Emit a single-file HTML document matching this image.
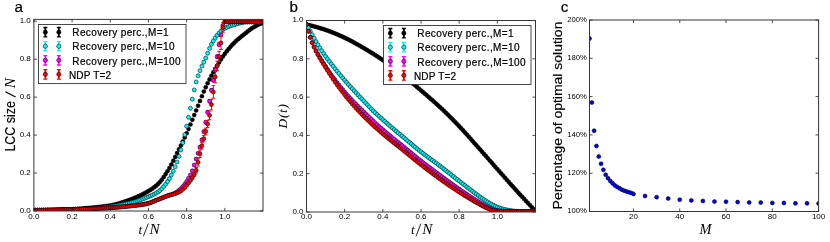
<!DOCTYPE html>
<html><head><meta charset="utf-8"><title>figure</title>
<style>html,body{margin:0;padding:0;background:#fff}body{width:830px;height:242px;overflow:hidden;font-family:"Liberation Sans",sans-serif}svg{display:block;will-change:transform}</style>
</head><body>
<svg width="830" height="242" viewBox="0 0 830 242">
<rect width="830" height="242" fill="#fff"/>
<defs>
<clipPath id="clipa"><rect x="33.88" y="19.4" width="229.12" height="191.6"/></clipPath>
<clipPath id="clipb"><rect x="306.5" y="20.5" width="229" height="191.5"/></clipPath>
<clipPath id="clipc"><rect x="589.5" y="20" width="229.1" height="191.5"/></clipPath>
</defs>
<g clip-path="url(#clipa)"><g fill="#000" stroke="#000" stroke-width="0.55"><circle cx="33.88" cy="210.24" r="2.0"/><circle cx="35.79" cy="210.24" r="2.0"/><circle cx="37.7" cy="210.23" r="2.0"/><circle cx="39.61" cy="210.21" r="2.0"/><circle cx="41.52" cy="210.19" r="2.0"/><circle cx="43.43" cy="210.16" r="2.0"/><circle cx="45.34" cy="210.13" r="2.0"/><circle cx="47.25" cy="210.1" r="2.0"/><circle cx="49.15" cy="210.05" r="2.0"/><circle cx="51.06" cy="210.01" r="2.0"/><circle cx="52.97" cy="209.96" r="2.0"/><circle cx="54.88" cy="209.9" r="2.0"/><circle cx="56.79" cy="209.85" r="2.0"/><circle cx="58.7" cy="209.79" r="2.0"/><circle cx="60.61" cy="209.72" r="2.0"/><circle cx="62.52" cy="209.66" r="2.0"/><circle cx="64.43" cy="209.59" r="2.0"/><circle cx="66.34" cy="209.52" r="2.0"/><circle cx="68.25" cy="209.44" r="2.0"/><circle cx="70.16" cy="209.37" r="2.0"/><circle cx="72.07" cy="209.29" r="2.0"/><circle cx="73.98" cy="209.2" r="2.0"/><circle cx="75.89" cy="209.09" r="2.0"/><circle cx="77.79" cy="208.97" r="2.0"/><circle cx="79.7" cy="208.82" r="2.0"/><circle cx="81.61" cy="208.66" r="2.0"/><circle cx="83.52" cy="208.5" r="2.0"/><circle cx="85.43" cy="208.32" r="2.0"/><circle cx="87.34" cy="208.14" r="2.0"/><circle cx="89.25" cy="207.96" r="2.0"/><circle cx="91.16" cy="207.77" r="2.0"/><circle cx="93.07" cy="207.59" r="2.0"/><circle cx="94.98" cy="207.41" r="2.0"/><circle cx="96.89" cy="207.22" r="2.0"/><circle cx="98.8" cy="207.02" r="2.0"/><circle cx="100.71" cy="206.81" r="2.0"/><circle cx="102.62" cy="206.59" r="2.0"/><circle cx="104.53" cy="206.35" r="2.0"/><circle cx="106.43" cy="206.09" r="2.0"/><circle cx="108.34" cy="205.8" r="2.0"/><circle cx="110.25" cy="205.5" r="2.0"/><circle cx="112.16" cy="205.14" r="2.0"/><circle cx="114.07" cy="204.73" r="2.0"/><circle cx="115.98" cy="204.26" r="2.0"/><circle cx="117.89" cy="203.75" r="2.0"/><circle cx="119.8" cy="203.19" r="2.0"/><circle cx="121.71" cy="202.6" r="2.0"/><circle cx="123.62" cy="201.98" r="2.0"/><circle cx="125.53" cy="201.33" r="2.0"/><circle cx="127.44" cy="200.67" r="2.0"/><circle cx="129.35" cy="199.99" r="2.0"/><circle cx="131.26" cy="199.29" r="2.0"/><circle cx="133.17" cy="198.55" r="2.0"/><circle cx="135.07" cy="197.77" r="2.0"/><circle cx="136.98" cy="196.95" r="2.0"/><circle cx="138.89" cy="196.08" r="2.0"/><circle cx="140.8" cy="195.17" r="2.0"/><circle cx="142.71" cy="194.21" r="2.0"/><circle cx="144.62" cy="193.21" r="2.0"/><circle cx="146.53" cy="192.17" r="2.0"/><circle cx="148.44" cy="191.07" r="2.0"/><circle cx="150.35" cy="189.92" r="2.0"/><circle cx="152.26" cy="188.67" r="2.0"/><circle cx="154.17" cy="187.29" r="2.0"/><circle cx="156.08" cy="185.76" r="2.0"/><circle cx="157.99" cy="184.05" r="2.0"/><circle cx="159.9" cy="182.02" r="2.0"/><circle cx="161.81" cy="179.64" r="2.0"/><circle cx="163.71" cy="176.98" r="2.0"/><circle cx="165.62" cy="174.12" r="2.0"/><circle cx="167.53" cy="171.14" r="2.0"/><circle cx="169.44" cy="167.94" r="2.0"/><circle cx="171.35" cy="164.44" r="2.0"/><circle cx="173.26" cy="160.73" r="2.0"/><circle cx="175.17" cy="156.92" r="2.0"/><circle cx="177.08" cy="153.11" r="2.0"/><circle cx="178.99" cy="149.33" r="2.0"/><circle cx="180.9" cy="145.49" r="2.0"/><circle cx="182.81" cy="141.57" r="2.0"/><circle cx="184.72" cy="137.54" r="2.0"/><circle cx="186.63" cy="133.37" r="2.0"/><circle cx="188.54" cy="129.01" r="2.0"/><circle cx="190.45" cy="124.45" r="2.0"/><circle cx="192.35" cy="119.77" r="2.0"/><circle cx="194.26" cy="115.07" r="2.0"/><circle cx="196.17" cy="110.41" r="2.0"/><circle cx="198.08" cy="105.7" r="2.0"/><circle cx="199.99" cy="100.91" r="2.0"/><circle cx="201.9" cy="96.14" r="2.0"/><circle cx="203.81" cy="91.55" r="2.0"/><circle cx="205.72" cy="87.25" r="2.0"/><circle cx="207.63" cy="83.24" r="2.0"/><circle cx="209.54" cy="79.4" r="2.0"/><circle cx="211.45" cy="75.73" r="2.0"/><circle cx="213.36" cy="72.22" r="2.0"/><circle cx="215.27" cy="68.84" r="2.0"/><circle cx="217.18" cy="65.58" r="2.0"/><circle cx="219.09" cy="62.42" r="2.0"/><circle cx="220.99" cy="59.39" r="2.0"/><circle cx="222.9" cy="56.52" r="2.0"/><circle cx="224.81" cy="53.85" r="2.0"/><circle cx="226.72" cy="51.34" r="2.0"/><circle cx="228.63" cy="48.97" r="2.0"/><circle cx="230.54" cy="46.72" r="2.0"/><circle cx="232.45" cy="44.61" r="2.0"/><circle cx="234.36" cy="42.65" r="2.0"/><circle cx="236.27" cy="40.84" r="2.0"/><circle cx="238.18" cy="39.15" r="2.0"/><circle cx="240.09" cy="37.56" r="2.0"/><circle cx="242" cy="36.02" r="2.0"/><circle cx="243.91" cy="34.49" r="2.0"/><circle cx="245.82" cy="32.94" r="2.0"/><circle cx="247.73" cy="31.38" r="2.0"/><circle cx="249.63" cy="29.88" r="2.0"/><circle cx="251.54" cy="28.5" r="2.0"/><circle cx="253.45" cy="27.28" r="2.0"/><circle cx="255.36" cy="26.19" r="2.0"/><circle cx="257.27" cy="25.18" r="2.0"/><circle cx="259.18" cy="24.25" r="2.0"/><circle cx="261.09" cy="23.43" r="2.0"/><circle cx="263" cy="22.72" r="2.0"/></g></g>
<g clip-path="url(#clipa)"><g fill="#00fafa" stroke="#000" stroke-width="0.55"><circle cx="33.88" cy="210.24" r="2.0"/><circle cx="35.79" cy="210.24" r="2.0"/><circle cx="37.7" cy="210.23" r="2.0"/><circle cx="39.61" cy="210.22" r="2.0"/><circle cx="41.52" cy="210.2" r="2.0"/><circle cx="43.43" cy="210.18" r="2.0"/><circle cx="45.34" cy="210.15" r="2.0"/><circle cx="47.25" cy="210.12" r="2.0"/><circle cx="49.15" cy="210.08" r="2.0"/><circle cx="51.06" cy="210.04" r="2.0"/><circle cx="52.97" cy="210" r="2.0"/><circle cx="54.88" cy="209.96" r="2.0"/><circle cx="56.79" cy="209.91" r="2.0"/><circle cx="58.7" cy="209.86" r="2.0"/><circle cx="60.61" cy="209.81" r="2.0"/><circle cx="62.52" cy="209.76" r="2.0"/><circle cx="64.43" cy="209.71" r="2.0"/><circle cx="66.34" cy="209.65" r="2.0"/><circle cx="68.25" cy="209.6" r="2.0"/><circle cx="70.16" cy="209.54" r="2.0"/><circle cx="72.07" cy="209.48" r="2.0"/><circle cx="73.98" cy="209.42" r="2.0"/><circle cx="75.89" cy="209.35" r="2.0"/><circle cx="77.79" cy="209.27" r="2.0"/><circle cx="79.7" cy="209.19" r="2.0"/><circle cx="81.61" cy="209.09" r="2.0"/><circle cx="83.52" cy="208.99" r="2.0"/><circle cx="85.43" cy="208.89" r="2.0"/><circle cx="87.34" cy="208.78" r="2.0"/><circle cx="89.25" cy="208.66" r="2.0"/><circle cx="91.16" cy="208.53" r="2.0"/><circle cx="93.07" cy="208.4" r="2.0"/><circle cx="94.98" cy="208.25" r="2.0"/><circle cx="96.89" cy="208.09" r="2.0"/><circle cx="98.8" cy="207.92" r="2.0"/><circle cx="100.71" cy="207.74" r="2.0"/><circle cx="102.62" cy="207.54" r="2.0"/><circle cx="104.53" cy="207.33" r="2.0"/><circle cx="106.43" cy="207.11" r="2.0"/><circle cx="108.34" cy="206.88" r="2.0"/><circle cx="110.25" cy="206.63" r="2.0"/><circle cx="112.16" cy="206.37" r="2.0"/><circle cx="114.07" cy="206.09" r="2.0"/><circle cx="115.98" cy="205.78" r="2.0"/><circle cx="117.89" cy="205.45" r="2.0"/><circle cx="119.8" cy="205.09" r="2.0"/><circle cx="121.71" cy="204.72" r="2.0"/><circle cx="123.62" cy="204.32" r="2.0"/><circle cx="125.53" cy="203.91" r="2.0"/><circle cx="127.44" cy="203.48" r="2.0"/><circle cx="129.35" cy="203.03" r="2.0"/><circle cx="131.26" cy="202.55" r="2.0"/><circle cx="133.17" cy="202.04" r="2.0"/><circle cx="135.07" cy="201.49" r="2.0"/><circle cx="136.98" cy="200.91" r="2.0"/><circle cx="138.89" cy="200.29" r="2.0"/><circle cx="140.8" cy="199.64" r="2.0"/><circle cx="142.71" cy="198.96" r="2.0"/><circle cx="144.62" cy="198.26" r="2.0"/><circle cx="146.53" cy="197.52" r="2.0"/><circle cx="148.44" cy="196.77" r="2.0"/><circle cx="150.35" cy="195.99" r="2.0"/><circle cx="152.26" cy="195.17" r="2.0"/><circle cx="154.17" cy="194.26" r="2.0"/><circle cx="156.08" cy="193.23" r="2.0"/><circle cx="157.99" cy="192.02" r="2.0"/><circle cx="159.9" cy="190.54" r="2.0"/><circle cx="161.81" cy="188.71" r="2.0"/><circle cx="163.71" cy="186.59" r="2.0"/><circle cx="165.62" cy="184.2" r="2.0"/><circle cx="167.53" cy="181.58" r="2.0"/><circle cx="169.44" cy="178.59" r="2.0"/><circle cx="171.35" cy="175.11" r="2.0"/><circle cx="173.26" cy="171.16" r="2.0"/><circle cx="175.17" cy="166.78" r="2.0"/><circle cx="177.08" cy="162.03" r="2.0"/><circle cx="178.99" cy="156.47" r="2.0"/><circle cx="180.9" cy="149.95" r="2.0"/><circle cx="182.81" cy="142.78" r="2.0"/><circle cx="184.72" cy="134.68" r="2.0"/><circle cx="186.63" cy="126.16" r="2.0"/><circle cx="188.54" cy="117.33" r="2.0"/><circle cx="190.45" cy="108.24" r="2.0"/><circle cx="192.35" cy="99.2" r="2.0"/><circle cx="194.26" cy="89.92" r="2.0"/><circle cx="196.17" cy="81.94" r="2.0"/><circle cx="198.08" cy="75.83" r="2.0"/><circle cx="199.99" cy="70.66" r="2.0"/><circle cx="201.9" cy="66.06" r="2.0"/><circle cx="203.81" cy="62.08" r="2.0"/><circle cx="205.72" cy="58.02" r="2.0"/><circle cx="207.63" cy="53.24" r="2.0"/><circle cx="209.54" cy="48.38" r="2.0"/><circle cx="211.45" cy="44.36" r="2.0"/><circle cx="213.36" cy="40.9" r="2.0"/><circle cx="215.27" cy="37.91" r="2.0"/><circle cx="217.18" cy="35.28" r="2.0"/><circle cx="219.09" cy="32.99" r="2.0"/><circle cx="220.99" cy="31.14" r="2.0"/><circle cx="222.9" cy="29.57" r="2.0"/><circle cx="224.81" cy="28.32" r="2.0"/><circle cx="226.72" cy="27.36" r="2.0"/><circle cx="228.63" cy="26.57" r="2.0"/><circle cx="230.54" cy="25.87" r="2.0"/><circle cx="232.45" cy="25.25" r="2.0"/><circle cx="234.36" cy="24.68" r="2.0"/><circle cx="236.27" cy="24.12" r="2.0"/><circle cx="238.18" cy="23.58" r="2.0"/><circle cx="240.09" cy="23.1" r="2.0"/><circle cx="242" cy="22.63" r="2.0"/><circle cx="243.91" cy="22.21" r="2.0"/><circle cx="245.82" cy="21.96" r="2.0"/><circle cx="247.73" cy="21.86" r="2.0"/><circle cx="249.63" cy="21.8" r="2.0"/><circle cx="251.54" cy="21.77" r="2.0"/><circle cx="253.45" cy="21.77" r="2.0"/><circle cx="255.36" cy="21.77" r="2.0"/><circle cx="257.27" cy="21.77" r="2.0"/><circle cx="259.18" cy="21.77" r="2.0"/><circle cx="261.09" cy="21.77" r="2.0"/><circle cx="263" cy="21.77" r="2.0"/></g></g>
<g clip-path="url(#clipa)"><path d="M192.35 171.51V170.03M190.55 171.51h3.6M190.55 170.03h3.6M194.26 165.96V164.2M192.46 165.96h3.6M192.46 164.2h3.6M196.17 159.87V158.1M194.37 159.87h3.6M194.37 158.1h3.6M198.08 154.21V152.43M196.28 154.21h3.6M196.28 152.43h3.6M199.99 148.14V146.11M198.19 148.14h3.6M198.19 146.11h3.6M201.9 140.97V138.63M200.1 140.97h3.6M200.1 138.63h3.6M203.81 132.88V130.25M202.01 132.88h3.6M202.01 130.25h3.6M205.72 123.75V120.84M203.92 123.75h3.6M203.92 120.84h3.6M207.63 113.8V110.64M205.83 113.8h3.6M205.83 110.64h3.6M209.54 102.86V99.57M207.74 102.86h3.6M207.74 99.57h3.6M211.45 91.85V88.72M209.65 91.85h3.6M209.65 88.72h3.6M213.36 81.86V78.79M211.56 81.86h3.6M211.56 78.79h3.6M215.27 71.56V68.02M213.47 71.56h3.6M213.47 68.02h3.6M217.18 58.62V54.83M215.38 58.62h3.6M215.38 54.83h3.6M219.09 46.18V42.91M217.29 46.18h3.6M217.29 42.91h3.6M220.99 36.39V33.53M219.19 36.39h3.6M219.19 33.53h3.6M222.9 26.5V24.52M221.1 26.5h3.6M221.1 24.52h3.6" stroke="#f0f" stroke-width="1.0" fill="none"/><g fill="#f0f" stroke="#000" stroke-width="0.55"><circle cx="33.88" cy="210.24" r="2.0"/><circle cx="35.79" cy="210.22" r="2.0"/><circle cx="37.7" cy="210.21" r="2.0"/><circle cx="39.61" cy="210.18" r="2.0"/><circle cx="41.52" cy="210.16" r="2.0"/><circle cx="43.43" cy="210.13" r="2.0"/><circle cx="45.34" cy="210.1" r="2.0"/><circle cx="47.25" cy="210.07" r="2.0"/><circle cx="49.15" cy="210.03" r="2.0"/><circle cx="51.06" cy="210" r="2.0"/><circle cx="52.97" cy="209.96" r="2.0"/><circle cx="54.88" cy="209.92" r="2.0"/><circle cx="56.79" cy="209.87" r="2.0"/><circle cx="58.7" cy="209.83" r="2.0"/><circle cx="60.61" cy="209.78" r="2.0"/><circle cx="62.52" cy="209.73" r="2.0"/><circle cx="64.43" cy="209.69" r="2.0"/><circle cx="66.34" cy="209.64" r="2.0"/><circle cx="68.25" cy="209.59" r="2.0"/><circle cx="70.16" cy="209.53" r="2.0"/><circle cx="72.07" cy="209.48" r="2.0"/><circle cx="73.98" cy="209.43" r="2.0"/><circle cx="75.89" cy="209.37" r="2.0"/><circle cx="77.79" cy="209.31" r="2.0"/><circle cx="79.7" cy="209.25" r="2.0"/><circle cx="81.61" cy="209.18" r="2.0"/><circle cx="83.52" cy="209.11" r="2.0"/><circle cx="85.43" cy="209.03" r="2.0"/><circle cx="87.34" cy="208.96" r="2.0"/><circle cx="89.25" cy="208.88" r="2.0"/><circle cx="91.16" cy="208.79" r="2.0"/><circle cx="93.07" cy="208.7" r="2.0"/><circle cx="94.98" cy="208.61" r="2.0"/><circle cx="96.89" cy="208.52" r="2.0"/><circle cx="98.8" cy="208.42" r="2.0"/><circle cx="100.71" cy="208.32" r="2.0"/><circle cx="102.62" cy="208.22" r="2.0"/><circle cx="104.53" cy="208.11" r="2.0"/><circle cx="106.43" cy="208" r="2.0"/><circle cx="108.34" cy="207.89" r="2.0"/><circle cx="110.25" cy="207.77" r="2.0"/><circle cx="112.16" cy="207.65" r="2.0"/><circle cx="114.07" cy="207.51" r="2.0"/><circle cx="115.98" cy="207.36" r="2.0"/><circle cx="117.89" cy="207.2" r="2.0"/><circle cx="119.8" cy="207.03" r="2.0"/><circle cx="121.71" cy="206.85" r="2.0"/><circle cx="123.62" cy="206.66" r="2.0"/><circle cx="125.53" cy="206.47" r="2.0"/><circle cx="127.44" cy="206.27" r="2.0"/><circle cx="129.35" cy="206.07" r="2.0"/><circle cx="131.26" cy="205.86" r="2.0"/><circle cx="133.17" cy="205.66" r="2.0"/><circle cx="135.07" cy="205.46" r="2.0"/><circle cx="136.98" cy="205.24" r="2.0"/><circle cx="138.89" cy="205.01" r="2.0"/><circle cx="140.8" cy="204.75" r="2.0"/><circle cx="142.71" cy="204.47" r="2.0"/><circle cx="144.62" cy="204.15" r="2.0"/><circle cx="146.53" cy="203.79" r="2.0"/><circle cx="148.44" cy="203.31" r="2.0"/><circle cx="150.35" cy="202.69" r="2.0"/><circle cx="152.26" cy="201.96" r="2.0"/><circle cx="154.17" cy="201.17" r="2.0"/><circle cx="156.08" cy="200.37" r="2.0"/><circle cx="157.99" cy="199.61" r="2.0"/><circle cx="159.9" cy="198.87" r="2.0"/><circle cx="161.81" cy="198.1" r="2.0"/><circle cx="163.71" cy="197.33" r="2.0"/><circle cx="165.62" cy="196.56" r="2.0"/><circle cx="167.53" cy="195.82" r="2.0"/><circle cx="169.44" cy="195.14" r="2.0"/><circle cx="171.35" cy="194.51" r="2.0"/><circle cx="173.26" cy="193.82" r="2.0"/><circle cx="175.17" cy="192.97" r="2.0"/><circle cx="177.08" cy="191.81" r="2.0"/><circle cx="178.99" cy="190.35" r="2.0"/><circle cx="180.9" cy="188.65" r="2.0"/><circle cx="182.81" cy="186.58" r="2.0"/><circle cx="184.72" cy="184.2" r="2.0"/><circle cx="186.63" cy="181.44" r="2.0"/><circle cx="188.54" cy="178.35" r="2.0"/><circle cx="190.45" cy="174.95" r="2.0"/><circle cx="192.35" cy="170.77" r="2.0"/><circle cx="194.26" cy="165.08" r="2.0"/><circle cx="196.17" cy="158.98" r="2.0"/><circle cx="198.08" cy="153.32" r="2.0"/><circle cx="199.99" cy="147.13" r="2.0"/><circle cx="201.9" cy="139.8" r="2.0"/><circle cx="203.81" cy="131.56" r="2.0"/><circle cx="205.72" cy="122.3" r="2.0"/><circle cx="207.63" cy="112.22" r="2.0"/><circle cx="209.54" cy="101.21" r="2.0"/><circle cx="211.45" cy="90.28" r="2.0"/><circle cx="213.36" cy="80.32" r="2.0"/><circle cx="215.27" cy="69.79" r="2.0"/><circle cx="217.18" cy="56.72" r="2.0"/><circle cx="219.09" cy="44.55" r="2.0"/><circle cx="220.99" cy="34.96" r="2.0"/><circle cx="222.9" cy="25.51" r="2.0"/><circle cx="224.81" cy="21.77" r="2.0"/><circle cx="226.72" cy="21.77" r="2.0"/><circle cx="228.63" cy="21.77" r="2.0"/><circle cx="230.54" cy="21.77" r="2.0"/><circle cx="232.45" cy="21.77" r="2.0"/><circle cx="234.36" cy="21.77" r="2.0"/><circle cx="236.27" cy="21.77" r="2.0"/><circle cx="238.18" cy="21.77" r="2.0"/><circle cx="240.09" cy="21.77" r="2.0"/><circle cx="242" cy="21.77" r="2.0"/><circle cx="243.91" cy="21.77" r="2.0"/><circle cx="245.82" cy="21.77" r="2.0"/><circle cx="247.73" cy="21.77" r="2.0"/><circle cx="249.63" cy="21.77" r="2.0"/><circle cx="251.54" cy="21.77" r="2.0"/><circle cx="253.45" cy="21.77" r="2.0"/><circle cx="255.36" cy="21.77" r="2.0"/><circle cx="257.27" cy="21.77" r="2.0"/><circle cx="259.18" cy="21.77" r="2.0"/><circle cx="261.09" cy="21.77" r="2.0"/><circle cx="263" cy="21.77" r="2.0"/></g></g>
<g clip-path="url(#clipa)"><path d="M180.9 191.56V190.32M179.1 191.56h3.6M179.1 190.32h3.6M182.81 190.12V188.54M181.01 190.12h3.6M181.01 188.54h3.6M184.72 188.37V186.49M182.92 188.37h3.6M182.92 186.49h3.6M186.63 186.2V184.11M184.83 186.2h3.6M184.83 184.11h3.6M188.54 183.84V181.7M186.74 183.84h3.6M186.74 181.7h3.6M190.45 181.55V179.25M188.65 181.55h3.6M188.65 179.25h3.6M192.35 179V176.36M190.55 179h3.6M190.55 176.36h3.6M194.26 176.22V172.86M192.46 176.22h3.6M192.46 172.86h3.6M196.17 172.97V167.48M194.37 172.97h3.6M194.37 167.48h3.6M198.08 166.05V158.65M196.28 166.05h3.6M196.28 158.65h3.6M199.99 157.54V150.05M198.19 157.54h3.6M198.19 150.05h3.6M201.9 149.12V142.3M200.1 149.12h3.6M200.1 142.3h3.6M203.81 141.83V135.43M202.01 141.83h3.6M202.01 135.43h3.6M205.72 134.79V128.18M203.92 134.79h3.6M203.92 128.18h3.6M207.63 127.59V120.33M205.83 127.59h3.6M205.83 120.33h3.6M209.54 119.69V110.99M207.74 119.69h3.6M207.74 110.99h3.6M211.45 109.88V99.35M209.65 109.88h3.6M209.65 99.35h3.6M213.36 98.19V85.7M211.56 98.19h3.6M211.56 85.7h3.6M215.27 82.76V70.97M213.47 82.76h3.6M213.47 70.97h3.6M217.18 70.33V61.15M215.38 70.33h3.6M215.38 61.15h3.6M219.09 61.59V51.33M217.29 61.59h3.6M217.29 51.33h3.6M220.99 49.45V36.42M219.19 49.45h3.6M219.19 36.42h3.6M222.9 32.26V22.73M221.1 32.26h3.6M221.1 22.73h3.6M224.81 23.06V20.48M223.01 23.06h3.6M223.01 20.48h3.6" stroke="#f00" stroke-width="1.0" fill="none"/><g fill="#f00" stroke="#000" stroke-width="0.55"><circle cx="33.88" cy="210.24" r="2.0"/><circle cx="35.79" cy="210.22" r="2.0"/><circle cx="37.7" cy="210.21" r="2.0"/><circle cx="39.61" cy="210.18" r="2.0"/><circle cx="41.52" cy="210.16" r="2.0"/><circle cx="43.43" cy="210.13" r="2.0"/><circle cx="45.34" cy="210.1" r="2.0"/><circle cx="47.25" cy="210.07" r="2.0"/><circle cx="49.15" cy="210.03" r="2.0"/><circle cx="51.06" cy="210" r="2.0"/><circle cx="52.97" cy="209.96" r="2.0"/><circle cx="54.88" cy="209.92" r="2.0"/><circle cx="56.79" cy="209.87" r="2.0"/><circle cx="58.7" cy="209.83" r="2.0"/><circle cx="60.61" cy="209.78" r="2.0"/><circle cx="62.52" cy="209.73" r="2.0"/><circle cx="64.43" cy="209.69" r="2.0"/><circle cx="66.34" cy="209.64" r="2.0"/><circle cx="68.25" cy="209.59" r="2.0"/><circle cx="70.16" cy="209.53" r="2.0"/><circle cx="72.07" cy="209.48" r="2.0"/><circle cx="73.98" cy="209.43" r="2.0"/><circle cx="75.89" cy="209.37" r="2.0"/><circle cx="77.79" cy="209.31" r="2.0"/><circle cx="79.7" cy="209.25" r="2.0"/><circle cx="81.61" cy="209.18" r="2.0"/><circle cx="83.52" cy="209.11" r="2.0"/><circle cx="85.43" cy="209.03" r="2.0"/><circle cx="87.34" cy="208.96" r="2.0"/><circle cx="89.25" cy="208.88" r="2.0"/><circle cx="91.16" cy="208.79" r="2.0"/><circle cx="93.07" cy="208.7" r="2.0"/><circle cx="94.98" cy="208.61" r="2.0"/><circle cx="96.89" cy="208.52" r="2.0"/><circle cx="98.8" cy="208.42" r="2.0"/><circle cx="100.71" cy="208.32" r="2.0"/><circle cx="102.62" cy="208.22" r="2.0"/><circle cx="104.53" cy="208.11" r="2.0"/><circle cx="106.43" cy="208" r="2.0"/><circle cx="108.34" cy="207.89" r="2.0"/><circle cx="110.25" cy="207.77" r="2.0"/><circle cx="112.16" cy="207.65" r="2.0"/><circle cx="114.07" cy="207.51" r="2.0"/><circle cx="115.98" cy="207.36" r="2.0"/><circle cx="117.89" cy="207.2" r="2.0"/><circle cx="119.8" cy="207.03" r="2.0"/><circle cx="121.71" cy="206.85" r="2.0"/><circle cx="123.62" cy="206.66" r="2.0"/><circle cx="125.53" cy="206.47" r="2.0"/><circle cx="127.44" cy="206.27" r="2.0"/><circle cx="129.35" cy="206.07" r="2.0"/><circle cx="131.26" cy="205.86" r="2.0"/><circle cx="133.17" cy="205.66" r="2.0"/><circle cx="135.07" cy="205.46" r="2.0"/><circle cx="136.98" cy="205.24" r="2.0"/><circle cx="138.89" cy="205.01" r="2.0"/><circle cx="140.8" cy="204.75" r="2.0"/><circle cx="142.71" cy="204.47" r="2.0"/><circle cx="144.62" cy="204.15" r="2.0"/><circle cx="146.53" cy="203.79" r="2.0"/><circle cx="148.44" cy="203.31" r="2.0"/><circle cx="150.35" cy="202.69" r="2.0"/><circle cx="152.26" cy="201.96" r="2.0"/><circle cx="154.17" cy="201.17" r="2.0"/><circle cx="156.08" cy="200.37" r="2.0"/><circle cx="157.99" cy="199.61" r="2.0"/><circle cx="159.9" cy="198.85" r="2.0"/><circle cx="161.81" cy="198.05" r="2.0"/><circle cx="163.71" cy="197.26" r="2.0"/><circle cx="165.62" cy="196.5" r="2.0"/><circle cx="167.53" cy="195.82" r="2.0"/><circle cx="169.44" cy="195.25" r="2.0"/><circle cx="171.35" cy="194.75" r="2.0"/><circle cx="173.26" cy="194.25" r="2.0"/><circle cx="175.17" cy="193.67" r="2.0"/><circle cx="177.08" cy="192.96" r="2.0"/><circle cx="178.99" cy="192.09" r="2.0"/><circle cx="180.9" cy="190.94" r="2.0"/><circle cx="182.81" cy="189.33" r="2.0"/><circle cx="184.72" cy="187.43" r="2.0"/><circle cx="186.63" cy="185.16" r="2.0"/><circle cx="188.54" cy="182.77" r="2.0"/><circle cx="190.45" cy="180.4" r="2.0"/><circle cx="192.35" cy="177.68" r="2.0"/><circle cx="194.26" cy="174.54" r="2.0"/><circle cx="196.17" cy="170.23" r="2.0"/><circle cx="198.08" cy="162.35" r="2.0"/><circle cx="199.99" cy="153.79" r="2.0"/><circle cx="201.9" cy="145.71" r="2.0"/><circle cx="203.81" cy="138.63" r="2.0"/><circle cx="205.72" cy="131.48" r="2.0"/><circle cx="207.63" cy="123.96" r="2.0"/><circle cx="209.54" cy="115.34" r="2.0"/><circle cx="211.45" cy="104.61" r="2.0"/><circle cx="213.36" cy="91.94" r="2.0"/><circle cx="215.27" cy="76.86" r="2.0"/><circle cx="217.18" cy="65.74" r="2.0"/><circle cx="219.09" cy="56.46" r="2.0"/><circle cx="220.99" cy="42.94" r="2.0"/><circle cx="222.9" cy="27.5" r="2.0"/><circle cx="224.81" cy="21.77" r="2.0"/><circle cx="226.72" cy="21.77" r="2.0"/><circle cx="228.63" cy="21.77" r="2.0"/><circle cx="230.54" cy="21.77" r="2.0"/><circle cx="232.45" cy="21.77" r="2.0"/><circle cx="234.36" cy="21.77" r="2.0"/><circle cx="236.27" cy="21.77" r="2.0"/><circle cx="238.18" cy="21.77" r="2.0"/><circle cx="240.09" cy="21.77" r="2.0"/><circle cx="242" cy="21.77" r="2.0"/><circle cx="243.91" cy="21.77" r="2.0"/><circle cx="245.82" cy="21.77" r="2.0"/><circle cx="247.73" cy="21.77" r="2.0"/><circle cx="249.63" cy="21.77" r="2.0"/><circle cx="251.54" cy="21.77" r="2.0"/><circle cx="253.45" cy="21.77" r="2.0"/><circle cx="255.36" cy="21.77" r="2.0"/><circle cx="257.27" cy="21.77" r="2.0"/><circle cx="259.18" cy="21.77" r="2.0"/><circle cx="261.09" cy="21.77" r="2.0"/><circle cx="263" cy="21.77" r="2.0"/></g></g>
<path d="M33.88 211v-3.1M33.88 19.4v3.1M72.07 211v-3.1M72.07 19.4v3.1M110.25 211v-3.1M110.25 19.4v3.1M148.44 211v-3.1M148.44 19.4v3.1M186.63 211v-3.1M186.63 19.4v3.1M224.81 211v-3.1M224.81 19.4v3.1M33.88 211h3.1M263 211h-3.1M33.88 173.04h3.1M263 173.04h-3.1M33.88 135.08h3.1M263 135.08h-3.1M33.88 97.12h3.1M263 97.12h-3.1M33.88 59.16h3.1M263 59.16h-3.1M33.88 21.2h3.1M263 21.2h-3.1" stroke="#000" stroke-width="0.7" fill="none"/>
<rect x="33.88" y="19.4" width="229.12" height="191.6" fill="none" stroke="#363636" stroke-width="1.0"/>
<g font-family='"Liberation Sans", sans-serif' font-size="8.0" fill="#000"><text x="33.88" y="219.1" text-anchor="middle">0.0</text><text x="72.07" y="219.1" text-anchor="middle">0.2</text><text x="110.25" y="219.1" text-anchor="middle">0.4</text><text x="148.44" y="219.1" text-anchor="middle">0.6</text><text x="186.63" y="219.1" text-anchor="middle">0.8</text><text x="224.81" y="219.1" text-anchor="middle">1.0</text><text x="30.8" y="213.1" text-anchor="end">0.0</text><text x="30.8" y="175.14" text-anchor="end">0.2</text><text x="30.8" y="137.18" text-anchor="end">0.4</text><text x="30.8" y="99.22" text-anchor="end">0.6</text><text x="30.8" y="61.26" text-anchor="end">0.8</text><text x="30.8" y="23.3" text-anchor="end">1.0</text></g>
<rect x="38.5" y="24.5" width="147.5" height="59.1" fill="#fff" stroke="#363636" stroke-width="0.9"/>
<path d="M45.35 27.5V36.9" stroke="#000" stroke-width="1.8" fill="none"/>
<path d="M43.35 27.5h4M43.35 36.9h4" stroke="#000" stroke-width="1.3" fill="none"/>
<circle cx="45.35" cy="32.2" r="2.12" fill="#000" stroke="#000" stroke-width="0.55"/>
<path d="M58.85 27.5V36.9" stroke="#000" stroke-width="1.8" fill="none"/>
<path d="M56.85 27.5h4M56.85 36.9h4" stroke="#000" stroke-width="1.3" fill="none"/>
<circle cx="58.85" cy="32.2" r="2.12" fill="#000" stroke="#000" stroke-width="0.55"/>
<text x="72.3" y="36.4" font-family='"Liberation Sans", sans-serif' font-size="10" textLength="96.2" lengthAdjust="spacing" fill="#000" stroke="#000" stroke-width="0.22">Recovery perc.,M=1</text>
<path d="M45.35 41.55V50.95" stroke="#00fafa" stroke-width="1.8" fill="none"/>
<path d="M43.35 41.55h4M43.35 50.95h4" stroke="#00fafa" stroke-width="1.3" fill="none"/>
<circle cx="45.35" cy="46.25" r="2.12" fill="#00fafa" stroke="#000" stroke-width="0.55"/>
<path d="M58.85 41.55V50.95" stroke="#00fafa" stroke-width="1.8" fill="none"/>
<path d="M56.85 41.55h4M56.85 50.95h4" stroke="#00fafa" stroke-width="1.3" fill="none"/>
<circle cx="58.85" cy="46.25" r="2.12" fill="#00fafa" stroke="#000" stroke-width="0.55"/>
<text x="72.3" y="50.45" font-family='"Liberation Sans", sans-serif' font-size="10" textLength="102.2" lengthAdjust="spacing" fill="#000" stroke="#000" stroke-width="0.22">Recovery perc.,M=10</text>
<path d="M45.35 55.6V65" stroke="#f0f" stroke-width="1.8" fill="none"/>
<path d="M43.35 55.6h4M43.35 65h4" stroke="#f0f" stroke-width="1.3" fill="none"/>
<circle cx="45.35" cy="60.3" r="2.12" fill="#f0f" stroke="#000" stroke-width="0.55"/>
<path d="M58.85 55.6V65" stroke="#f0f" stroke-width="1.8" fill="none"/>
<path d="M56.85 55.6h4M56.85 65h4" stroke="#f0f" stroke-width="1.3" fill="none"/>
<circle cx="58.85" cy="60.3" r="2.12" fill="#f0f" stroke="#000" stroke-width="0.55"/>
<text x="72.3" y="64.5" font-family='"Liberation Sans", sans-serif' font-size="10" textLength="108.3" lengthAdjust="spacing" fill="#000" stroke="#000" stroke-width="0.22">Recovery perc.,M=100</text>
<path d="M45.35 69.65V79.05" stroke="#f00" stroke-width="1.8" fill="none"/>
<path d="M43.35 69.65h4M43.35 79.05h4" stroke="#f00" stroke-width="1.3" fill="none"/>
<circle cx="45.35" cy="74.35" r="2.12" fill="#f00" stroke="#000" stroke-width="0.55"/>
<path d="M58.85 69.65V79.05" stroke="#f00" stroke-width="1.8" fill="none"/>
<path d="M56.85 69.65h4M56.85 79.05h4" stroke="#f00" stroke-width="1.3" fill="none"/>
<circle cx="58.85" cy="74.35" r="2.12" fill="#f00" stroke="#000" stroke-width="0.55"/>
<text x="68.9" y="78.55" font-family='"Liberation Sans", sans-serif' font-size="10" textLength="42.2" lengthAdjust="spacing" fill="#000" stroke="#000" stroke-width="0.22">NDP T=2</text>
<g clip-path="url(#clipb)"><g fill="#000" stroke="#000" stroke-width="0.55"><circle cx="306.5" cy="24.52" r="2.0"/><circle cx="308.41" cy="24.95" r="2.0"/><circle cx="310.32" cy="25.4" r="2.0"/><circle cx="312.23" cy="25.88" r="2.0"/><circle cx="314.13" cy="26.39" r="2.0"/><circle cx="316.04" cy="26.92" r="2.0"/><circle cx="317.95" cy="27.47" r="2.0"/><circle cx="319.86" cy="28.05" r="2.0"/><circle cx="321.77" cy="28.64" r="2.0"/><circle cx="323.68" cy="29.25" r="2.0"/><circle cx="325.58" cy="29.88" r="2.0"/><circle cx="327.49" cy="30.54" r="2.0"/><circle cx="329.4" cy="31.23" r="2.0"/><circle cx="331.31" cy="31.95" r="2.0"/><circle cx="333.22" cy="32.71" r="2.0"/><circle cx="335.12" cy="33.49" r="2.0"/><circle cx="337.03" cy="34.3" r="2.0"/><circle cx="338.94" cy="35.13" r="2.0"/><circle cx="340.85" cy="35.98" r="2.0"/><circle cx="342.76" cy="36.85" r="2.0"/><circle cx="344.67" cy="37.73" r="2.0"/><circle cx="346.57" cy="38.65" r="2.0"/><circle cx="348.48" cy="39.6" r="2.0"/><circle cx="350.39" cy="40.58" r="2.0"/><circle cx="352.3" cy="41.59" r="2.0"/><circle cx="354.21" cy="42.63" r="2.0"/><circle cx="356.12" cy="43.69" r="2.0"/><circle cx="358.02" cy="44.77" r="2.0"/><circle cx="359.93" cy="45.86" r="2.0"/><circle cx="361.84" cy="46.96" r="2.0"/><circle cx="363.75" cy="48.08" r="2.0"/><circle cx="365.66" cy="49.2" r="2.0"/><circle cx="367.57" cy="50.34" r="2.0"/><circle cx="369.48" cy="51.49" r="2.0"/><circle cx="371.38" cy="52.67" r="2.0"/><circle cx="373.29" cy="53.86" r="2.0"/><circle cx="375.2" cy="55.07" r="2.0"/><circle cx="377.11" cy="56.31" r="2.0"/><circle cx="379.02" cy="57.56" r="2.0"/><circle cx="380.93" cy="58.84" r="2.0"/><circle cx="382.83" cy="60.14" r="2.0"/><circle cx="384.74" cy="61.47" r="2.0"/><circle cx="386.65" cy="62.83" r="2.0"/><circle cx="388.56" cy="64.22" r="2.0"/><circle cx="390.47" cy="65.64" r="2.0"/><circle cx="392.38" cy="67.07" r="2.0"/><circle cx="394.28" cy="68.53" r="2.0"/><circle cx="396.19" cy="70.01" r="2.0"/><circle cx="398.1" cy="71.5" r="2.0"/><circle cx="400.01" cy="73" r="2.0"/><circle cx="401.92" cy="74.5" r="2.0"/><circle cx="403.83" cy="76.02" r="2.0"/><circle cx="405.73" cy="77.56" r="2.0"/><circle cx="407.64" cy="79.12" r="2.0"/><circle cx="409.55" cy="80.7" r="2.0"/><circle cx="411.46" cy="82.29" r="2.0"/><circle cx="413.37" cy="83.9" r="2.0"/><circle cx="415.28" cy="85.51" r="2.0"/><circle cx="417.18" cy="87.13" r="2.0"/><circle cx="419.09" cy="88.76" r="2.0"/><circle cx="421" cy="90.4" r="2.0"/><circle cx="422.91" cy="92.03" r="2.0"/><circle cx="424.82" cy="93.67" r="2.0"/><circle cx="426.73" cy="95.32" r="2.0"/><circle cx="428.63" cy="96.97" r="2.0"/><circle cx="430.54" cy="98.64" r="2.0"/><circle cx="432.45" cy="100.32" r="2.0"/><circle cx="434.36" cy="102.02" r="2.0"/><circle cx="436.27" cy="103.74" r="2.0"/><circle cx="438.18" cy="105.48" r="2.0"/><circle cx="440.08" cy="107.25" r="2.0"/><circle cx="441.99" cy="109.05" r="2.0"/><circle cx="443.9" cy="110.86" r="2.0"/><circle cx="445.81" cy="112.7" r="2.0"/><circle cx="447.72" cy="114.57" r="2.0"/><circle cx="449.62" cy="116.45" r="2.0"/><circle cx="451.53" cy="118.36" r="2.0"/><circle cx="453.44" cy="120.29" r="2.0"/><circle cx="455.35" cy="122.24" r="2.0"/><circle cx="457.26" cy="124.21" r="2.0"/><circle cx="459.17" cy="126.21" r="2.0"/><circle cx="461.08" cy="128.23" r="2.0"/><circle cx="462.98" cy="130.3" r="2.0"/><circle cx="464.89" cy="132.39" r="2.0"/><circle cx="466.8" cy="134.52" r="2.0"/><circle cx="468.71" cy="136.66" r="2.0"/><circle cx="470.62" cy="138.82" r="2.0"/><circle cx="472.52" cy="140.98" r="2.0"/><circle cx="474.43" cy="143.15" r="2.0"/><circle cx="476.34" cy="145.31" r="2.0"/><circle cx="478.25" cy="147.46" r="2.0"/><circle cx="480.16" cy="149.61" r="2.0"/><circle cx="482.07" cy="151.77" r="2.0"/><circle cx="483.98" cy="153.93" r="2.0"/><circle cx="485.88" cy="156.1" r="2.0"/><circle cx="487.79" cy="158.27" r="2.0"/><circle cx="489.7" cy="160.44" r="2.0"/><circle cx="491.61" cy="162.61" r="2.0"/><circle cx="493.52" cy="164.78" r="2.0"/><circle cx="495.43" cy="166.95" r="2.0"/><circle cx="497.33" cy="169.1" r="2.0"/><circle cx="499.24" cy="171.26" r="2.0"/><circle cx="501.15" cy="173.42" r="2.0"/><circle cx="503.06" cy="175.58" r="2.0"/><circle cx="504.97" cy="177.74" r="2.0"/><circle cx="506.88" cy="179.9" r="2.0"/><circle cx="508.78" cy="182.05" r="2.0"/><circle cx="510.69" cy="184.2" r="2.0"/><circle cx="512.6" cy="186.33" r="2.0"/><circle cx="514.51" cy="188.45" r="2.0"/><circle cx="516.42" cy="190.55" r="2.0"/><circle cx="518.33" cy="192.64" r="2.0"/><circle cx="520.23" cy="194.73" r="2.0"/><circle cx="522.14" cy="196.8" r="2.0"/><circle cx="524.05" cy="198.86" r="2.0"/><circle cx="525.96" cy="200.92" r="2.0"/><circle cx="527.87" cy="202.96" r="2.0"/><circle cx="529.77" cy="205" r="2.0"/><circle cx="531.68" cy="207.02" r="2.0"/><circle cx="533.59" cy="209.04" r="2.0"/><circle cx="535.5" cy="211.04" r="2.0"/></g></g>
<g clip-path="url(#clipb)"><g fill="#00fafa" stroke="#000" stroke-width="0.55"><circle cx="306.5" cy="24.52" r="2.0"/><circle cx="308.41" cy="27.78" r="2.0"/><circle cx="310.32" cy="31.21" r="2.0"/><circle cx="312.23" cy="34.74" r="2.0"/><circle cx="314.13" cy="38.24" r="2.0"/><circle cx="316.04" cy="41.56" r="2.0"/><circle cx="317.95" cy="44.71" r="2.0"/><circle cx="319.86" cy="47.75" r="2.0"/><circle cx="321.77" cy="50.71" r="2.0"/><circle cx="323.68" cy="53.56" r="2.0"/><circle cx="325.58" cy="56.31" r="2.0"/><circle cx="327.49" cy="58.95" r="2.0"/><circle cx="329.4" cy="61.49" r="2.0"/><circle cx="331.31" cy="63.95" r="2.0"/><circle cx="333.22" cy="66.37" r="2.0"/><circle cx="335.12" cy="68.76" r="2.0"/><circle cx="337.03" cy="71.13" r="2.0"/><circle cx="338.94" cy="73.47" r="2.0"/><circle cx="340.85" cy="75.77" r="2.0"/><circle cx="342.76" cy="78.03" r="2.0"/><circle cx="344.67" cy="80.25" r="2.0"/><circle cx="346.57" cy="82.42" r="2.0"/><circle cx="348.48" cy="84.55" r="2.0"/><circle cx="350.39" cy="86.64" r="2.0"/><circle cx="352.3" cy="88.71" r="2.0"/><circle cx="354.21" cy="90.78" r="2.0"/><circle cx="356.12" cy="92.84" r="2.0"/><circle cx="358.02" cy="94.88" r="2.0"/><circle cx="359.93" cy="96.9" r="2.0"/><circle cx="361.84" cy="98.92" r="2.0"/><circle cx="363.75" cy="100.93" r="2.0"/><circle cx="365.66" cy="102.95" r="2.0"/><circle cx="367.57" cy="104.99" r="2.0"/><circle cx="369.48" cy="107" r="2.0"/><circle cx="371.38" cy="108.98" r="2.0"/><circle cx="373.29" cy="110.89" r="2.0"/><circle cx="375.2" cy="112.73" r="2.0"/><circle cx="377.11" cy="114.52" r="2.0"/><circle cx="379.02" cy="116.27" r="2.0"/><circle cx="380.93" cy="117.99" r="2.0"/><circle cx="382.83" cy="119.7" r="2.0"/><circle cx="384.74" cy="121.38" r="2.0"/><circle cx="386.65" cy="123.05" r="2.0"/><circle cx="388.56" cy="124.7" r="2.0"/><circle cx="390.47" cy="126.33" r="2.0"/><circle cx="392.38" cy="127.95" r="2.0"/><circle cx="394.28" cy="129.56" r="2.0"/><circle cx="396.19" cy="131.16" r="2.0"/><circle cx="398.1" cy="132.77" r="2.0"/><circle cx="400.01" cy="134.37" r="2.0"/><circle cx="401.92" cy="135.97" r="2.0"/><circle cx="403.83" cy="137.59" r="2.0"/><circle cx="405.73" cy="139.21" r="2.0"/><circle cx="407.64" cy="140.83" r="2.0"/><circle cx="409.55" cy="142.45" r="2.0"/><circle cx="411.46" cy="144.06" r="2.0"/><circle cx="413.37" cy="145.66" r="2.0"/><circle cx="415.28" cy="147.25" r="2.0"/><circle cx="417.18" cy="148.81" r="2.0"/><circle cx="419.09" cy="150.36" r="2.0"/><circle cx="421" cy="151.87" r="2.0"/><circle cx="422.91" cy="153.35" r="2.0"/><circle cx="424.82" cy="154.8" r="2.0"/><circle cx="426.73" cy="156.22" r="2.0"/><circle cx="428.63" cy="157.62" r="2.0"/><circle cx="430.54" cy="159.01" r="2.0"/><circle cx="432.45" cy="160.4" r="2.0"/><circle cx="434.36" cy="161.79" r="2.0"/><circle cx="436.27" cy="163.18" r="2.0"/><circle cx="438.18" cy="164.6" r="2.0"/><circle cx="440.08" cy="166.04" r="2.0"/><circle cx="441.99" cy="167.5" r="2.0"/><circle cx="443.9" cy="168.98" r="2.0"/><circle cx="445.81" cy="170.48" r="2.0"/><circle cx="447.72" cy="171.98" r="2.0"/><circle cx="449.62" cy="173.48" r="2.0"/><circle cx="451.53" cy="174.99" r="2.0"/><circle cx="453.44" cy="176.5" r="2.0"/><circle cx="455.35" cy="178" r="2.0"/><circle cx="457.26" cy="179.5" r="2.0"/><circle cx="459.17" cy="180.98" r="2.0"/><circle cx="461.08" cy="182.46" r="2.0"/><circle cx="462.98" cy="183.94" r="2.0"/><circle cx="464.89" cy="185.43" r="2.0"/><circle cx="466.8" cy="186.91" r="2.0"/><circle cx="468.71" cy="188.39" r="2.0"/><circle cx="470.62" cy="189.86" r="2.0"/><circle cx="472.52" cy="191.31" r="2.0"/><circle cx="474.43" cy="192.74" r="2.0"/><circle cx="476.34" cy="194.15" r="2.0"/><circle cx="478.25" cy="195.53" r="2.0"/><circle cx="480.16" cy="196.9" r="2.0"/><circle cx="482.07" cy="198.26" r="2.0"/><circle cx="483.98" cy="199.59" r="2.0"/><circle cx="485.88" cy="200.86" r="2.0"/><circle cx="487.79" cy="202.04" r="2.0"/><circle cx="489.7" cy="203.17" r="2.0"/><circle cx="491.61" cy="204.26" r="2.0"/><circle cx="493.52" cy="205.29" r="2.0"/><circle cx="495.43" cy="206.22" r="2.0"/><circle cx="497.33" cy="207.02" r="2.0"/><circle cx="499.24" cy="207.73" r="2.0"/><circle cx="501.15" cy="208.38" r="2.0"/><circle cx="503.06" cy="208.97" r="2.0"/><circle cx="504.97" cy="209.48" r="2.0"/><circle cx="506.88" cy="209.89" r="2.0"/><circle cx="508.78" cy="210.26" r="2.0"/><circle cx="510.69" cy="210.59" r="2.0"/><circle cx="512.6" cy="210.88" r="2.0"/><circle cx="514.51" cy="211.11" r="2.0"/><circle cx="516.42" cy="211.23" r="2.0"/><circle cx="518.33" cy="211.3" r="2.0"/><circle cx="520.23" cy="211.37" r="2.0"/><circle cx="522.14" cy="211.42" r="2.0"/><circle cx="524.05" cy="211.47" r="2.0"/><circle cx="525.96" cy="211.52" r="2.0"/><circle cx="527.87" cy="211.55" r="2.0"/><circle cx="529.77" cy="211.58" r="2.0"/><circle cx="531.68" cy="211.6" r="2.0"/><circle cx="533.59" cy="211.61" r="2.0"/><circle cx="535.5" cy="211.62" r="2.0"/></g></g>
<g clip-path="url(#clipb)"><g fill="#f0f" stroke="#000" stroke-width="0.55"><circle cx="306.5" cy="24.52" r="2.0"/><circle cx="308.41" cy="31.19" r="2.0"/><circle cx="310.32" cy="37.34" r="2.0"/><circle cx="312.23" cy="42.46" r="2.0"/><circle cx="314.13" cy="46.82" r="2.0"/><circle cx="316.04" cy="50.68" r="2.0"/><circle cx="317.95" cy="54.18" r="2.0"/><circle cx="319.86" cy="57.42" r="2.0"/><circle cx="321.77" cy="60.48" r="2.0"/><circle cx="323.68" cy="63.42" r="2.0"/><circle cx="325.58" cy="66.34" r="2.0"/><circle cx="327.49" cy="69.24" r="2.0"/><circle cx="329.4" cy="72.06" r="2.0"/><circle cx="331.31" cy="74.8" r="2.0"/><circle cx="333.22" cy="77.47" r="2.0"/><circle cx="335.12" cy="80.06" r="2.0"/><circle cx="337.03" cy="82.57" r="2.0"/><circle cx="338.94" cy="85.03" r="2.0"/><circle cx="340.85" cy="87.41" r="2.0"/><circle cx="342.76" cy="89.73" r="2.0"/><circle cx="344.67" cy="91.99" r="2.0"/><circle cx="346.57" cy="94.18" r="2.0"/><circle cx="348.48" cy="96.31" r="2.0"/><circle cx="350.39" cy="98.38" r="2.0"/><circle cx="352.3" cy="100.41" r="2.0"/><circle cx="354.21" cy="102.4" r="2.0"/><circle cx="356.12" cy="104.35" r="2.0"/><circle cx="358.02" cy="106.27" r="2.0"/><circle cx="359.93" cy="108.16" r="2.0"/><circle cx="361.84" cy="110" r="2.0"/><circle cx="363.75" cy="111.81" r="2.0"/><circle cx="365.66" cy="113.73" r="2.0"/><circle cx="367.57" cy="115.64" r="2.0"/><circle cx="369.48" cy="117.52" r="2.0"/><circle cx="371.38" cy="119.37" r="2.0"/><circle cx="373.29" cy="121.18" r="2.0"/><circle cx="375.2" cy="122.95" r="2.0"/><circle cx="377.11" cy="124.69" r="2.0"/><circle cx="379.02" cy="126.41" r="2.0"/><circle cx="380.93" cy="128.09" r="2.0"/><circle cx="382.83" cy="129.76" r="2.0"/><circle cx="384.74" cy="131.4" r="2.0"/><circle cx="386.65" cy="133" r="2.0"/><circle cx="388.56" cy="134.58" r="2.0"/><circle cx="390.47" cy="136.14" r="2.0"/><circle cx="392.38" cy="137.68" r="2.0"/><circle cx="394.28" cy="139.21" r="2.0"/><circle cx="396.19" cy="140.74" r="2.0"/><circle cx="398.1" cy="142.27" r="2.0"/><circle cx="400.01" cy="143.8" r="2.0"/><circle cx="401.92" cy="145.36" r="2.0"/><circle cx="403.83" cy="146.92" r="2.0"/><circle cx="405.73" cy="148.5" r="2.0"/><circle cx="407.64" cy="150.08" r="2.0"/><circle cx="409.55" cy="151.67" r="2.0"/><circle cx="411.46" cy="153.25" r="2.0"/><circle cx="413.37" cy="154.83" r="2.0"/><circle cx="415.28" cy="156.39" r="2.0"/><circle cx="417.18" cy="157.94" r="2.0"/><circle cx="419.09" cy="159.47" r="2.0"/><circle cx="421" cy="160.98" r="2.0"/><circle cx="422.91" cy="162.46" r="2.0"/><circle cx="424.82" cy="163.93" r="2.0"/><circle cx="426.73" cy="165.39" r="2.0"/><circle cx="428.63" cy="166.83" r="2.0"/><circle cx="430.54" cy="168.26" r="2.0"/><circle cx="432.45" cy="169.68" r="2.0"/><circle cx="434.36" cy="171.09" r="2.0"/><circle cx="436.27" cy="172.49" r="2.0"/><circle cx="438.18" cy="173.89" r="2.0"/><circle cx="440.08" cy="175.29" r="2.0"/><circle cx="441.99" cy="176.71" r="2.0"/><circle cx="443.9" cy="178.12" r="2.0"/><circle cx="445.81" cy="179.54" r="2.0"/><circle cx="447.72" cy="180.94" r="2.0"/><circle cx="449.62" cy="182.34" r="2.0"/><circle cx="451.53" cy="183.72" r="2.0"/><circle cx="453.44" cy="185.1" r="2.0"/><circle cx="455.35" cy="186.46" r="2.0"/><circle cx="457.26" cy="187.8" r="2.0"/><circle cx="459.17" cy="189.12" r="2.0"/><circle cx="461.08" cy="190.43" r="2.0"/><circle cx="462.98" cy="191.74" r="2.0"/><circle cx="464.89" cy="193.03" r="2.0"/><circle cx="466.8" cy="194.31" r="2.0"/><circle cx="468.71" cy="195.57" r="2.0"/><circle cx="470.62" cy="196.82" r="2.0"/><circle cx="472.52" cy="198.05" r="2.0"/><circle cx="474.43" cy="199.26" r="2.0"/><circle cx="476.34" cy="200.45" r="2.0"/><circle cx="478.25" cy="201.62" r="2.0"/><circle cx="480.16" cy="202.77" r="2.0"/><circle cx="482.07" cy="203.91" r="2.0"/><circle cx="483.98" cy="205.01" r="2.0"/><circle cx="485.88" cy="206.07" r="2.0"/><circle cx="487.79" cy="207.04" r="2.0"/><circle cx="489.7" cy="207.98" r="2.0"/><circle cx="491.61" cy="208.87" r="2.0"/><circle cx="493.52" cy="209.6" r="2.0"/><circle cx="495.43" cy="210.22" r="2.0"/><circle cx="497.33" cy="210.61" r="2.0"/><circle cx="499.24" cy="210.76" r="2.0"/><circle cx="501.15" cy="210.91" r="2.0"/><circle cx="503.06" cy="211.03" r="2.0"/><circle cx="504.97" cy="211.15" r="2.0"/><circle cx="506.88" cy="211.24" r="2.0"/><circle cx="508.78" cy="211.32" r="2.0"/><circle cx="510.69" cy="211.39" r="2.0"/><circle cx="512.6" cy="211.46" r="2.0"/><circle cx="514.51" cy="211.5" r="2.0"/><circle cx="516.42" cy="211.53" r="2.0"/><circle cx="518.33" cy="211.55" r="2.0"/><circle cx="520.23" cy="211.56" r="2.0"/><circle cx="522.14" cy="211.57" r="2.0"/><circle cx="524.05" cy="211.59" r="2.0"/><circle cx="525.96" cy="211.59" r="2.0"/><circle cx="527.87" cy="211.6" r="2.0"/><circle cx="529.77" cy="211.61" r="2.0"/><circle cx="531.68" cy="211.61" r="2.0"/><circle cx="533.59" cy="211.62" r="2.0"/><circle cx="535.5" cy="211.62" r="2.0"/></g></g>
<g clip-path="url(#clipb)"><g fill="#f00" stroke="#000" stroke-width="0.55"><circle cx="306.5" cy="24.52" r="2.0"/><circle cx="308.41" cy="31.22" r="2.0"/><circle cx="310.32" cy="37.46" r="2.0"/><circle cx="312.23" cy="42.7" r="2.0"/><circle cx="314.13" cy="47.16" r="2.0"/><circle cx="316.04" cy="51.14" r="2.0"/><circle cx="317.95" cy="54.77" r="2.0"/><circle cx="319.86" cy="58.12" r="2.0"/><circle cx="321.77" cy="61.29" r="2.0"/><circle cx="323.68" cy="64.36" r="2.0"/><circle cx="325.58" cy="67.42" r="2.0"/><circle cx="327.49" cy="70.46" r="2.0"/><circle cx="329.4" cy="73.44" r="2.0"/><circle cx="331.31" cy="76.36" r="2.0"/><circle cx="333.22" cy="79.2" r="2.0"/><circle cx="335.12" cy="81.97" r="2.0"/><circle cx="337.03" cy="84.67" r="2.0"/><circle cx="338.94" cy="87.3" r="2.0"/><circle cx="340.85" cy="89.86" r="2.0"/><circle cx="342.76" cy="92.37" r="2.0"/><circle cx="344.67" cy="94.8" r="2.0"/><circle cx="346.57" cy="97.17" r="2.0"/><circle cx="348.48" cy="99.48" r="2.0"/><circle cx="350.39" cy="101.74" r="2.0"/><circle cx="352.3" cy="103.94" r="2.0"/><circle cx="354.21" cy="106.1" r="2.0"/><circle cx="356.12" cy="108.22" r="2.0"/><circle cx="358.02" cy="110.3" r="2.0"/><circle cx="359.93" cy="112.33" r="2.0"/><circle cx="361.84" cy="114.32" r="2.0"/><circle cx="363.75" cy="116.25" r="2.0"/><circle cx="365.66" cy="118.14" r="2.0"/><circle cx="367.57" cy="119.99" r="2.0"/><circle cx="369.48" cy="121.82" r="2.0"/><circle cx="371.38" cy="123.62" r="2.0"/><circle cx="373.29" cy="125.39" r="2.0"/><circle cx="375.2" cy="127.13" r="2.0"/><circle cx="377.11" cy="128.85" r="2.0"/><circle cx="379.02" cy="130.55" r="2.0"/><circle cx="380.93" cy="132.22" r="2.0"/><circle cx="382.83" cy="133.87" r="2.0"/><circle cx="384.74" cy="135.49" r="2.0"/><circle cx="386.65" cy="137.07" r="2.0"/><circle cx="388.56" cy="138.62" r="2.0"/><circle cx="390.47" cy="140.14" r="2.0"/><circle cx="392.38" cy="141.65" r="2.0"/><circle cx="394.28" cy="143.15" r="2.0"/><circle cx="396.19" cy="144.65" r="2.0"/><circle cx="398.1" cy="146.15" r="2.0"/><circle cx="400.01" cy="147.66" r="2.0"/><circle cx="401.92" cy="149.19" r="2.0"/><circle cx="403.83" cy="150.74" r="2.0"/><circle cx="405.73" cy="152.3" r="2.0"/><circle cx="407.64" cy="153.86" r="2.0"/><circle cx="409.55" cy="155.44" r="2.0"/><circle cx="411.46" cy="157.01" r="2.0"/><circle cx="413.37" cy="158.57" r="2.0"/><circle cx="415.28" cy="160.13" r="2.0"/><circle cx="417.18" cy="161.67" r="2.0"/><circle cx="419.09" cy="163.2" r="2.0"/><circle cx="421" cy="164.7" r="2.0"/><circle cx="422.91" cy="166.19" r="2.0"/><circle cx="424.82" cy="167.67" r="2.0"/><circle cx="426.73" cy="169.13" r="2.0"/><circle cx="428.63" cy="170.59" r="2.0"/><circle cx="430.54" cy="172.04" r="2.0"/><circle cx="432.45" cy="173.47" r="2.0"/><circle cx="434.36" cy="174.89" r="2.0"/><circle cx="436.27" cy="176.3" r="2.0"/><circle cx="438.18" cy="177.69" r="2.0"/><circle cx="440.08" cy="179.06" r="2.0"/><circle cx="441.99" cy="180.42" r="2.0"/><circle cx="443.9" cy="181.77" r="2.0"/><circle cx="445.81" cy="183.11" r="2.0"/><circle cx="447.72" cy="184.44" r="2.0"/><circle cx="449.62" cy="185.75" r="2.0"/><circle cx="451.53" cy="187.05" r="2.0"/><circle cx="453.44" cy="188.34" r="2.0"/><circle cx="455.35" cy="189.6" r="2.0"/><circle cx="457.26" cy="190.85" r="2.0"/><circle cx="459.17" cy="192.08" r="2.0"/><circle cx="461.08" cy="193.3" r="2.0"/><circle cx="462.98" cy="194.5" r="2.0"/><circle cx="464.89" cy="195.69" r="2.0"/><circle cx="466.8" cy="196.87" r="2.0"/><circle cx="468.71" cy="198.03" r="2.0"/><circle cx="470.62" cy="199.18" r="2.0"/><circle cx="472.52" cy="200.31" r="2.0"/><circle cx="474.43" cy="201.41" r="2.0"/><circle cx="476.34" cy="202.5" r="2.0"/><circle cx="478.25" cy="203.57" r="2.0"/><circle cx="480.16" cy="204.63" r="2.0"/><circle cx="482.07" cy="205.68" r="2.0"/><circle cx="483.98" cy="206.69" r="2.0"/><circle cx="485.88" cy="207.66" r="2.0"/><circle cx="487.79" cy="208.55" r="2.0"/><circle cx="489.7" cy="209.42" r="2.0"/><circle cx="491.61" cy="210.22" r="2.0"/><circle cx="493.52" cy="210.85" r="2.0"/><circle cx="495.43" cy="211.36" r="2.0"/><circle cx="497.33" cy="211.62" r="2.0"/><circle cx="499.24" cy="211.62" r="2.0"/><circle cx="501.15" cy="211.62" r="2.0"/><circle cx="503.06" cy="211.62" r="2.0"/><circle cx="504.97" cy="211.62" r="2.0"/><circle cx="506.88" cy="211.62" r="2.0"/><circle cx="508.78" cy="211.62" r="2.0"/><circle cx="510.69" cy="211.62" r="2.0"/><circle cx="512.6" cy="211.62" r="2.0"/><circle cx="514.51" cy="211.62" r="2.0"/><circle cx="516.42" cy="211.62" r="2.0"/><circle cx="518.33" cy="211.62" r="2.0"/><circle cx="520.23" cy="211.62" r="2.0"/><circle cx="522.14" cy="211.62" r="2.0"/><circle cx="524.05" cy="211.62" r="2.0"/><circle cx="525.96" cy="211.62" r="2.0"/><circle cx="527.87" cy="211.62" r="2.0"/><circle cx="529.77" cy="211.62" r="2.0"/><circle cx="531.68" cy="211.62" r="2.0"/><circle cx="533.59" cy="211.62" r="2.0"/><circle cx="535.5" cy="211.62" r="2.0"/></g></g>
<path d="M306.5 212v-3.1M306.5 20.5v3.1M344.67 212v-3.1M344.67 20.5v3.1M382.83 212v-3.1M382.83 20.5v3.1M421 212v-3.1M421 20.5v3.1M459.17 212v-3.1M459.17 20.5v3.1M497.33 212v-3.1M497.33 20.5v3.1M306.5 212h3.1M535.5 212h-3.1M306.5 173.7h3.1M535.5 173.7h-3.1M306.5 135.4h3.1M535.5 135.4h-3.1M306.5 97.1h3.1M535.5 97.1h-3.1M306.5 58.8h3.1M535.5 58.8h-3.1M306.5 20.5h3.1M535.5 20.5h-3.1" stroke="#000" stroke-width="0.7" fill="none"/>
<rect x="306.5" y="20.5" width="229" height="191.5" fill="none" stroke="#363636" stroke-width="1.0"/>
<g font-family='"Liberation Sans", sans-serif' font-size="8.0" fill="#000"><text x="306.5" y="219.4" text-anchor="middle">0.0</text><text x="344.67" y="219.4" text-anchor="middle">0.2</text><text x="382.83" y="219.4" text-anchor="middle">0.4</text><text x="421" y="219.4" text-anchor="middle">0.6</text><text x="459.17" y="219.4" text-anchor="middle">0.8</text><text x="497.33" y="219.4" text-anchor="middle">1.0</text><text x="303.5" y="213.95" text-anchor="end">0.0</text><text x="303.5" y="175.65" text-anchor="end">0.2</text><text x="303.5" y="137.35" text-anchor="end">0.4</text><text x="303.5" y="99.05" text-anchor="end">0.6</text><text x="303.5" y="60.75" text-anchor="end">0.8</text><text x="303.5" y="22.45" text-anchor="end">1.0</text></g>
<rect x="383.5" y="25.5" width="147.5" height="59" fill="#fff" stroke="#363636" stroke-width="0.9"/>
<path d="M390.35 28.5V37.9" stroke="#000" stroke-width="1.8" fill="none"/>
<path d="M388.35 28.5h4M388.35 37.9h4" stroke="#000" stroke-width="1.3" fill="none"/>
<circle cx="390.35" cy="33.2" r="2.12" fill="#000" stroke="#000" stroke-width="0.55"/>
<path d="M403.85 28.5V37.9" stroke="#000" stroke-width="1.8" fill="none"/>
<path d="M401.85 28.5h4M401.85 37.9h4" stroke="#000" stroke-width="1.3" fill="none"/>
<circle cx="403.85" cy="33.2" r="2.12" fill="#000" stroke="#000" stroke-width="0.55"/>
<text x="417.3" y="37.4" font-family='"Liberation Sans", sans-serif' font-size="10" textLength="96.2" lengthAdjust="spacing" fill="#000" stroke="#000" stroke-width="0.22">Recovery perc.,M=1</text>
<path d="M390.35 42.55V51.95" stroke="#00fafa" stroke-width="1.8" fill="none"/>
<path d="M388.35 42.55h4M388.35 51.95h4" stroke="#00fafa" stroke-width="1.3" fill="none"/>
<circle cx="390.35" cy="47.25" r="2.12" fill="#00fafa" stroke="#000" stroke-width="0.55"/>
<path d="M403.85 42.55V51.95" stroke="#00fafa" stroke-width="1.8" fill="none"/>
<path d="M401.85 42.55h4M401.85 51.95h4" stroke="#00fafa" stroke-width="1.3" fill="none"/>
<circle cx="403.85" cy="47.25" r="2.12" fill="#00fafa" stroke="#000" stroke-width="0.55"/>
<text x="417.3" y="51.45" font-family='"Liberation Sans", sans-serif' font-size="10" textLength="102.2" lengthAdjust="spacing" fill="#000" stroke="#000" stroke-width="0.22">Recovery perc.,M=10</text>
<path d="M390.35 56.6V66" stroke="#f0f" stroke-width="1.8" fill="none"/>
<path d="M388.35 56.6h4M388.35 66h4" stroke="#f0f" stroke-width="1.3" fill="none"/>
<circle cx="390.35" cy="61.3" r="2.12" fill="#f0f" stroke="#000" stroke-width="0.55"/>
<path d="M403.85 56.6V66" stroke="#f0f" stroke-width="1.8" fill="none"/>
<path d="M401.85 56.6h4M401.85 66h4" stroke="#f0f" stroke-width="1.3" fill="none"/>
<circle cx="403.85" cy="61.3" r="2.12" fill="#f0f" stroke="#000" stroke-width="0.55"/>
<text x="417.3" y="65.5" font-family='"Liberation Sans", sans-serif' font-size="10" textLength="108.3" lengthAdjust="spacing" fill="#000" stroke="#000" stroke-width="0.22">Recovery perc.,M=100</text>
<path d="M390.35 70.65V80.05" stroke="#f00" stroke-width="1.8" fill="none"/>
<path d="M388.35 70.65h4M388.35 80.05h4" stroke="#f00" stroke-width="1.3" fill="none"/>
<circle cx="390.35" cy="75.35" r="2.12" fill="#f00" stroke="#000" stroke-width="0.55"/>
<path d="M403.85 70.65V80.05" stroke="#f00" stroke-width="1.8" fill="none"/>
<path d="M401.85 70.65h4M401.85 80.05h4" stroke="#f00" stroke-width="1.3" fill="none"/>
<circle cx="403.85" cy="75.35" r="2.12" fill="#f00" stroke="#000" stroke-width="0.55"/>
<text x="413.9" y="79.55" font-family='"Liberation Sans", sans-serif' font-size="10" textLength="42.2" lengthAdjust="spacing" fill="#000" stroke="#000" stroke-width="0.22">NDP T=2</text>
<g clip-path="url(#clipc)"><g fill="#00f" stroke="#000" stroke-width="0.55"><circle cx="589.5" cy="38.58" r="2.0"/><circle cx="591.81" cy="102.54" r="2.0"/><circle cx="594.13" cy="130.69" r="2.0"/><circle cx="596.44" cy="146.01" r="2.0"/><circle cx="598.76" cy="156.54" r="2.0"/><circle cx="601.07" cy="163.82" r="2.0"/><circle cx="603.38" cy="169.75" r="2.0"/><circle cx="605.7" cy="174.73" r="2.0"/><circle cx="608.01" cy="178.18" r="2.0"/><circle cx="610.33" cy="181.05" r="2.0"/><circle cx="612.64" cy="183.35" r="2.0"/><circle cx="614.96" cy="185.46" r="2.0"/><circle cx="617.27" cy="186.99" r="2.0"/><circle cx="619.58" cy="188.33" r="2.0"/><circle cx="621.9" cy="189.67" r="2.0"/><circle cx="624.21" cy="190.63" r="2.0"/><circle cx="626.53" cy="191.58" r="2.0"/><circle cx="628.84" cy="192.16" r="2.0"/><circle cx="631.15" cy="192.92" r="2.0"/><circle cx="633.47" cy="193.88" r="2.0"/><circle cx="645.04" cy="195.99" r="2.0"/><circle cx="656.61" cy="197.14" r="2.0"/><circle cx="668.18" cy="198.48" r="2.0"/><circle cx="679.75" cy="199.63" r="2.0"/><circle cx="691.32" cy="200.39" r="2.0"/><circle cx="702.89" cy="200.97" r="2.0"/><circle cx="714.46" cy="201.54" r="2.0"/><circle cx="726.03" cy="201.73" r="2.0"/><circle cx="737.61" cy="202.12" r="2.0"/><circle cx="749.18" cy="202.4" r="2.0"/><circle cx="760.75" cy="202.6" r="2.0"/><circle cx="772.32" cy="202.88" r="2.0"/><circle cx="783.89" cy="202.98" r="2.0"/><circle cx="795.46" cy="203.36" r="2.0"/><circle cx="807.03" cy="203.36" r="2.0"/><circle cx="818.6" cy="203.46" r="2.0"/></g></g>
<path d="M633.47 211.5v-3.1M633.47 20v3.1M679.75 211.5v-3.1M679.75 20v3.1M726.03 211.5v-3.1M726.03 20v3.1M772.32 211.5v-3.1M772.32 20v3.1M818.6 211.5v-3.1M818.6 20v3.1M589.5 211.5h3.1M818.6 211.5h-3.1M589.5 173.2h3.1M818.6 173.2h-3.1M589.5 134.9h3.1M818.6 134.9h-3.1M589.5 96.6h3.1M818.6 96.6h-3.1M589.5 58.3h3.1M818.6 58.3h-3.1M589.5 20h3.1M818.6 20h-3.1" stroke="#000" stroke-width="0.7" fill="none"/>
<rect x="589.5" y="20" width="229.1" height="191.5" fill="none" stroke="#363636" stroke-width="1.0"/>
<g font-family='"Liberation Sans", sans-serif' font-size="8.0" fill="#000"><text x="633.47" y="219.1" text-anchor="middle">20</text><text x="679.75" y="219.1" text-anchor="middle">40</text><text x="726.03" y="219.1" text-anchor="middle">60</text><text x="772.32" y="219.1" text-anchor="middle">80</text><text x="818.6" y="219.1" text-anchor="middle">100</text><text x="586.9" y="213.4" text-anchor="end" font-size="7.7">100%</text><text x="586.9" y="175.1" text-anchor="end" font-size="7.7">120%</text><text x="586.9" y="136.8" text-anchor="end" font-size="7.7">140%</text><text x="586.9" y="98.5" text-anchor="end" font-size="7.7">160%</text><text x="586.9" y="60.2" text-anchor="end" font-size="7.7">180%</text><text x="586.9" y="21.9" text-anchor="end" font-size="7.7">200%</text></g>
<text x="14.6" y="11.5" font-family='"Liberation Sans", sans-serif' font-size="15.2" fill="#000" stroke="#000" stroke-width="0.2">a</text>
<text x="289.6" y="11.5" font-family='"Liberation Sans", sans-serif' font-size="15.2" fill="#000" stroke="#000" stroke-width="0.2">b</text>
<text x="560.8" y="11.5" font-family='"Liberation Sans", sans-serif' font-size="15.2" fill="#000" stroke="#000" stroke-width="0.2">c</text>
<text x="138.4" y="233.6" font-family='"Liberation Serif", serif' font-style="italic" font-size="13.2" fill="#000">t</text>
<path d="M143.4 236.3L148.3 223.6" stroke="#000" stroke-width="0.85" fill="none"/>
<text transform="translate(149.6,233.6) scale(1.12,1)" font-family='"Liberation Serif", serif' font-style="italic" font-size="13.6" fill="#000">N</text>
<text x="411" y="233.6" font-family='"Liberation Serif", serif' font-style="italic" font-size="13.2" fill="#000">t</text>
<path d="M416 236.3L420.9 223.6" stroke="#000" stroke-width="0.85" fill="none"/>
<text transform="translate(422.2,233.6) scale(1.12,1)" font-family='"Liberation Serif", serif' font-style="italic" font-size="13.6" fill="#000">N</text>
<text transform="translate(699.4,233.8) scale(1.05,1)" font-family='"Liberation Serif", serif' font-style="italic" font-size="13.7" fill="#000">M</text>
<text transform="translate(15,151.6) rotate(-90)" font-family='"Liberation Sans", sans-serif' font-size="14" fill="#000" stroke="#000" stroke-width="0.15" textLength="50.4" lengthAdjust="spacingAndGlyphs">LCC size</text>
<path d="M15.6 97.0L5.3 91.7" stroke="#000" stroke-width="1.15" fill="none"/>
<text transform="translate(15,88.3) rotate(-90) scale(1.05,1)" font-family='"Liberation Serif", serif' font-style="italic" font-size="14.6" fill="#000">N</text>
<text transform="translate(286.6,128.4) rotate(-90)" font-family='"Liberation Serif", serif' font-style="italic" font-size="13.4" fill="#000" textLength="24.4" lengthAdjust="spacing">D(t)</text>
<text transform="translate(562.4,209.4) rotate(-90)" font-family='"Liberation Sans", sans-serif' font-size="13.6" fill="#000" stroke="#000" stroke-width="0.15" textLength="187.8" lengthAdjust="spacingAndGlyphs">Percentage of optimal solution</text>
</svg>
</body></html>
